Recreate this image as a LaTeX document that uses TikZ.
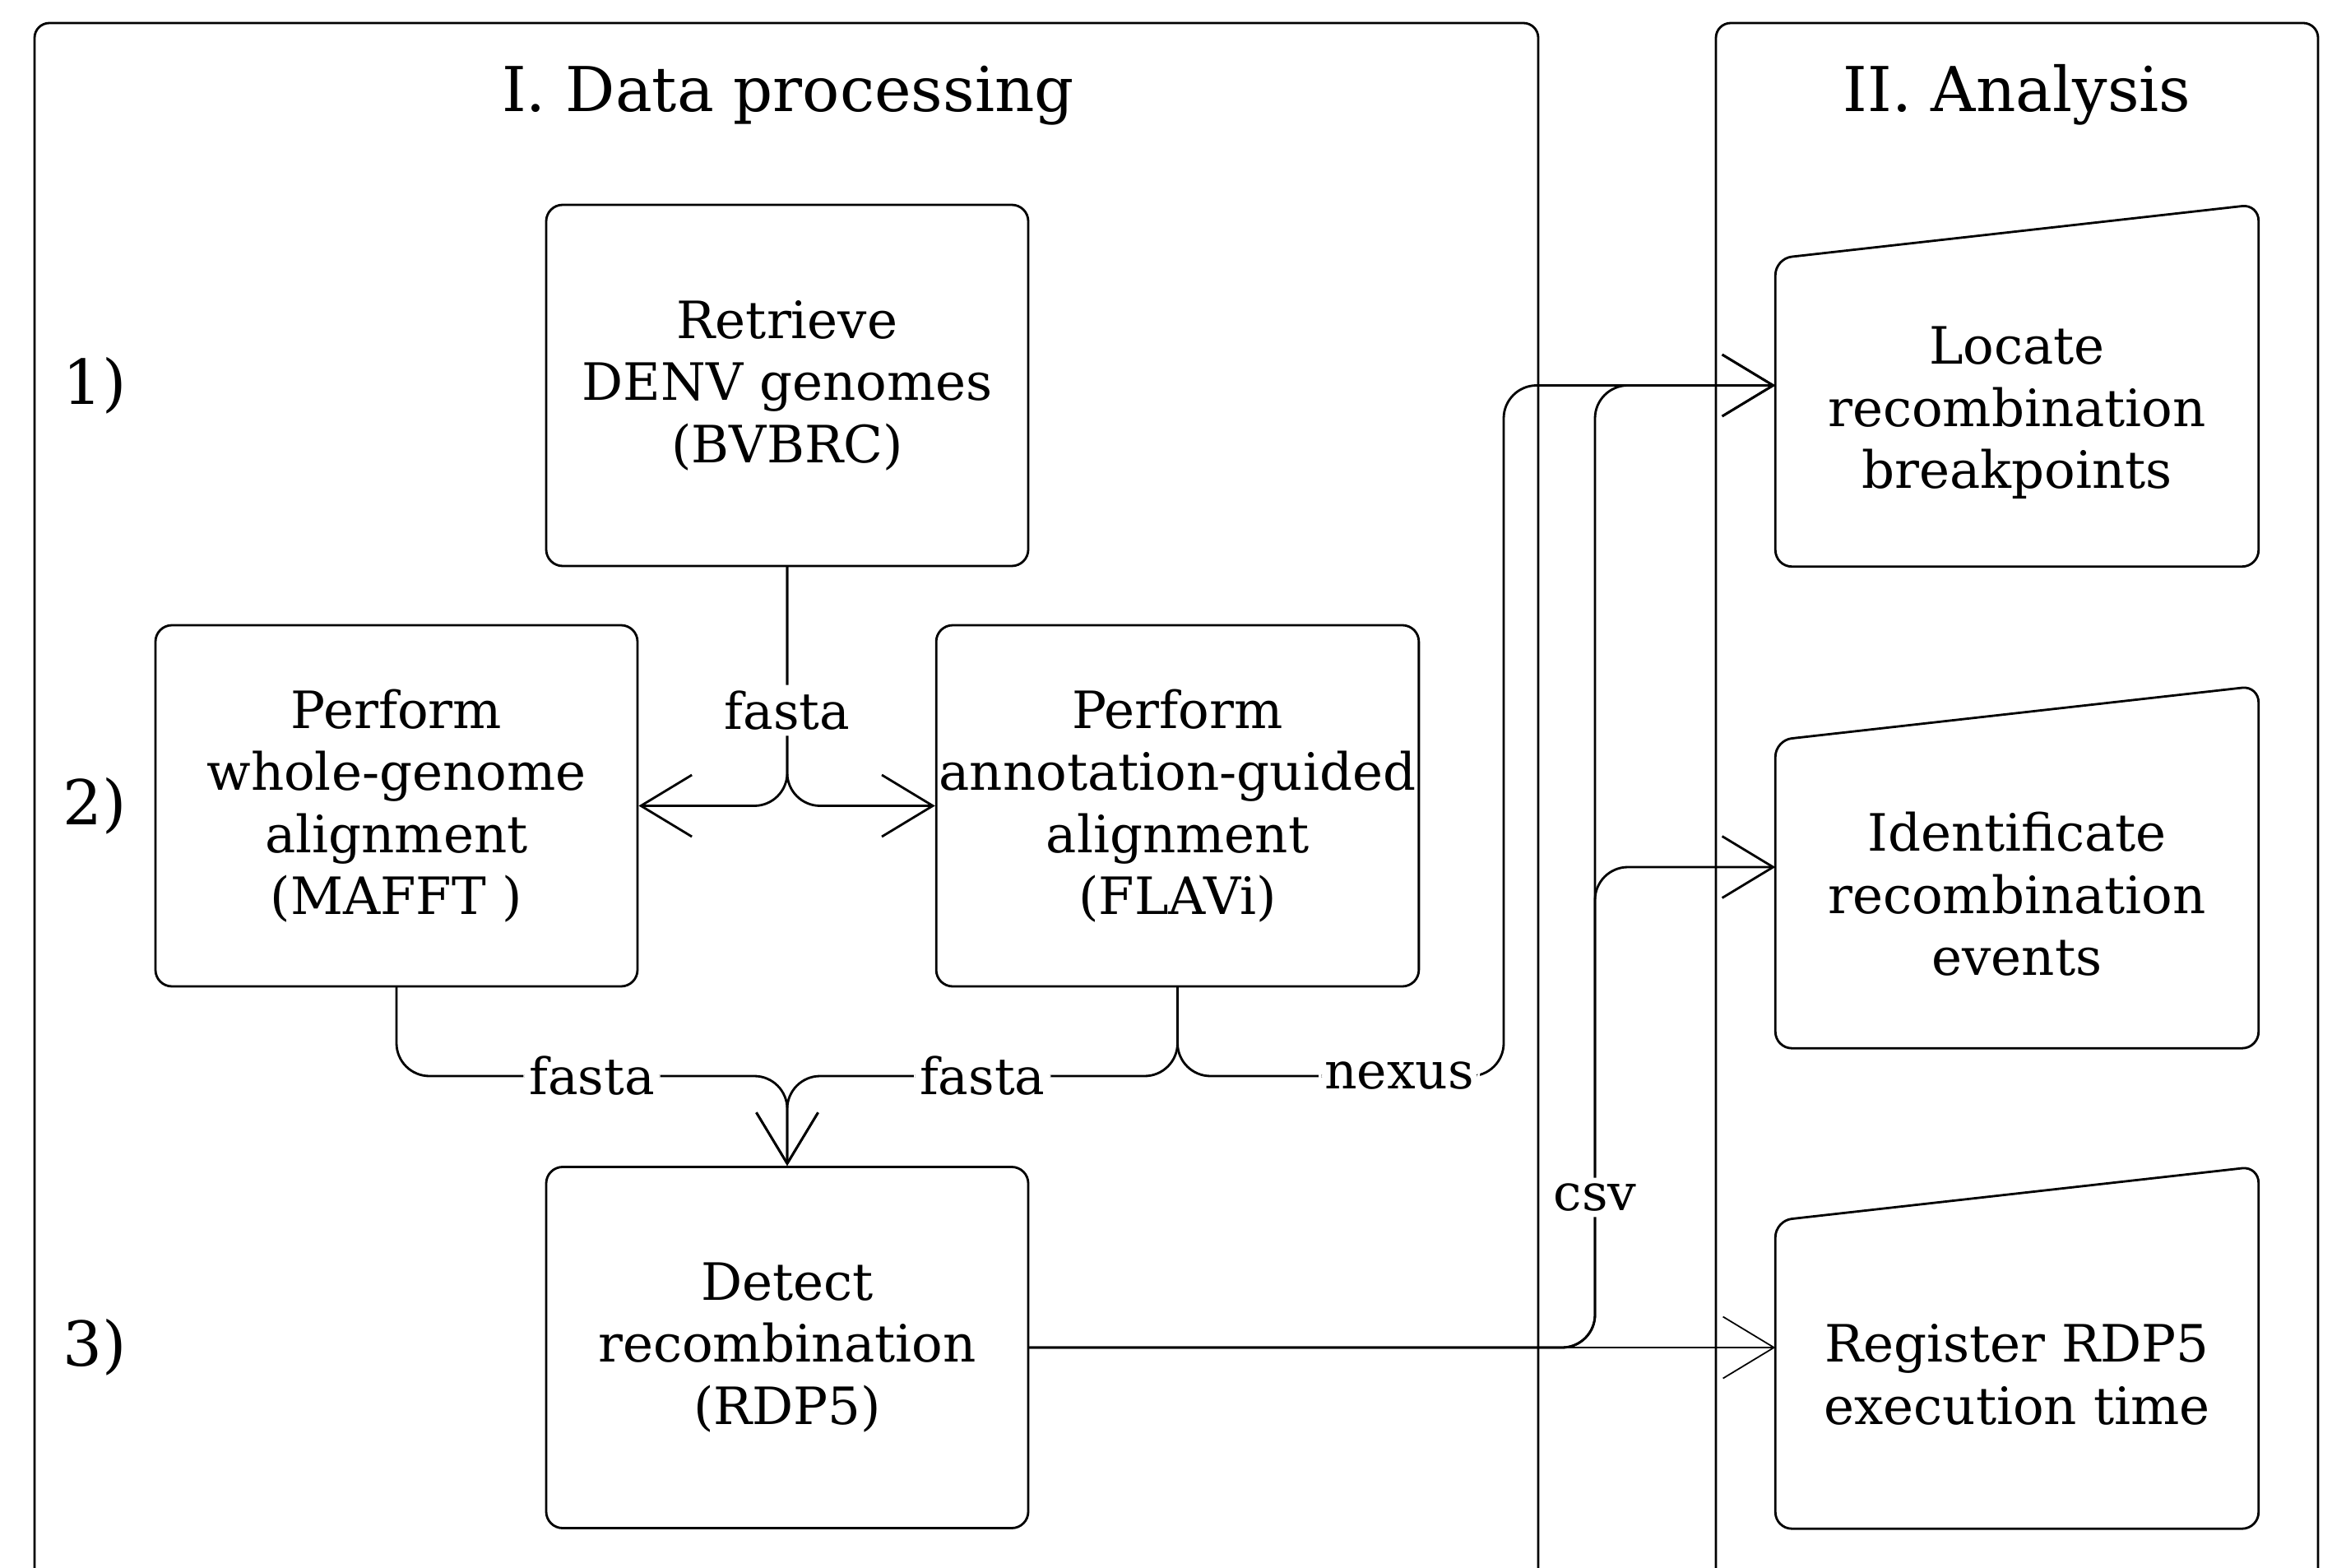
\documentclass[tikz,border=0pt]{standalone}
\usepackage{fontspec}
\setmainfont{DejaVu Serif}
\usetikzlibrary{arrows.meta}

\tikzset{
  frame/.style={draw,line width=0.8pt,rounded corners=0.18cm},
  box/.style={draw,line width=0.8pt,rounded corners=0.2cm,inner xsep=1pt,minimum width=5.86cm,minimum height=4.39cm,align=center,font=\fontsize{17.8}{21.5}\selectfont},
  slantbox/.style={minimum width=5.86cm,minimum height=4.39cm,inner sep=0pt},
  boxtext/.style={align=center,font=\fontsize{17.8}{21.5}\selectfont},
  heading/.style={font=\fontsize{21.4}{25}\selectfont},
  flow/.style={line width=0.8pt,rounded corners=0.4cm,-{Straight Barb[length=0.62cm,width=0.75cm]}},
  lbl/.style={fill=white,inner sep=2pt,font=\fontsize{17.5}{20}\selectfont},
}

\begin{document}
\begin{tikzpicture}[line cap=round,line join=round]
  \useasboundingbox (0,0) rectangle (28.52,-19.06);
  % the two panels
  \draw[frame] (0.42,-19.06) -- (0.42,-0.28) -- (18.70,-0.28) -- (18.70,-19.06);
  \draw[frame] (20.86,-19.06) -- (20.86,-0.28) -- (28.18,-0.28) -- (28.18,-19.06);
  \node[heading,anchor=base] (ttlproc) at (9.58,-1.36) {I. Data processing};
  \node[heading,anchor=base] (ttlana) at (24.52,-1.36) {II. Analysis};
  % row numbers
  \node[heading] (n1) at (1.15,-4.685) {1)};
  \node[heading] (n2) at (1.15,-9.795) {2)};
  \node[heading] (n3) at (1.15,-16.38) {3)};
  % processing steps
  \node[box] (ret) at (9.57,-4.685) {Retrieve\\DENV genomes\\(BVBRC)};
  \node[box] (wg) at (4.82,-9.795) {Perform\\whole-genome\\alignment\\(MAFFT )};
  \node[box] (ann) at (14.315,-9.795) {Perform\\annotation-guided\\alignment\\(FLAVi)};
  \node[box] (det) at (9.57,-16.38) {Detect\\recombination\\(RDP5)};
  % analysis steps
  \node[slantbox] (loc) at (24.52,-4.685) {};
  \node[slantbox] (ident) at (24.52,-10.54) {};
  \node[slantbox] (reg) at (24.52,-16.38) {};
  \foreach \n in {loc,ident,reg}
    \draw[line width=0.8pt,rounded corners=0.2cm] (\n.south west) -- ([yshift=-0.66cm]\n.north west)
      -- (\n.north east) -- (\n.south east) -- cycle;
  \node[boxtext] (loctext) at (24.52,-5.02) {Locate\\recombination\\breakpoints};
  \node[boxtext] (identtext) at (24.52,-10.87) {Identificate\\recombination\\events};
  \node[boxtext] (regtext) at (24.52,-16.71) {Register RDP5\\execution time};
  % connectors
  \coordinate (merge) at (9.57,-13.08);
  \coordinate (nxturn) at (18.28,-13.08);
  \coordinate (csvtop) at (19.39,-4.685);
  \coordinate (csvmid) at (19.39,-10.54);
  \draw[flow] (ret.south) |- (ann.west);
  \draw[flow] (ret.south) |- node[lbl,pos=0.3] (fa1) {fasta} (wg.east);
  \draw[flow] (wg.south) |- node[lbl,pos=0.75] (fa2) {fasta} (merge) -- (det.north);
  \draw[flow] (ann.south) |- node[lbl,pos=0.75] (fa3) {fasta} (merge) -- (det.north);
  \draw[flow] (ann.south) |- node[lbl,pos=0.84] (nx) {nexus} (nxturn) |- (loc.west);
  \draw[flow] (det.east) -| (csvmid) -- (ident.west);
  \draw[flow] (det.east) -| node[lbl,pos=0.578] (cs) {csv} (csvtop) -- (loc.west);
  \draw[flow,line width=0.5pt] (det.east) -- (reg.west);
\end{tikzpicture}
\end{document}
